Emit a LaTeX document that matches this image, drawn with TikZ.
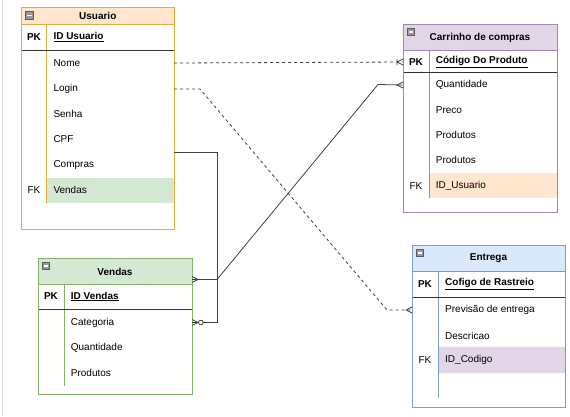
\documentclass[tikz,border=0pt]{standalone}
\usepackage{fontspec}
\setmainfont{Liberation Sans}
\definecolor{usrc}{HTML}{E3AC3C}
\definecolor{usrf}{HTML}{FFE6CC}
\definecolor{vndc}{HTML}{82B366}
\definecolor{vndf}{HTML}{D5E8D4}
\definecolor{carc}{HTML}{A486B4}
\definecolor{carf}{HTML}{E1D5E7}
\definecolor{entc}{HTML}{7C9CCB}
\definecolor{entf}{HTML}{DAE8FC}
\definecolor{linec}{HTML}{404040}
\tikzset{
  txt/.style={font=\fontsize{10}{12}\selectfont, inner sep=0pt, anchor=west, text=black},
  bold/.style={font=\bfseries\fontsize{10}{12}\selectfont, inner sep=0pt, text=black},
  keytxt/.style={font=\fontsize{10}{12}\selectfont, inner sep=0pt, text=black},
  frame/.style={draw=#1, line width=0.9pt, inner sep=0pt, outer sep=0pt, anchor=north west},
  conn/.style={draw=linec, line width=0.8pt},
  dashconn/.style={conn, dash pattern=on 3pt off 3pt},
  pkline/.style={draw=black!80, line width=1pt},
  pics/colicon/.style={code={
    \draw[fill=black!40, draw=black!65, line width=0.5pt] (0,0) rectangle (7.5,7.5);
    \fill[white] (1.5,3) rectangle (6,4.5);
  }},
  pics/crow/.style={code={
    \draw[conn] (-6,0) -- (0,-3) (-6,0) -- (0,3);
  }},
  pics/crowbar/.style={code={
    \draw[conn] (-6,0) -- (0,-3) (-6,0) -- (0,3) (-6,-3) -- (-6,3);
  }},
  pics/crowzero/.style={code={
    \draw[conn] (-6,0) -- (0,-3) (-6,0) -- (0,3);
    \draw[conn, fill=white] (-8.8,0) circle (2.3);
  }},
}
\begin{document}
\begin{tikzpicture}[x=1pt,y=-1pt]
\useasboundingbox (0,0) rectangle (570,416);
\fill[white] (0,0) rectangle (570,416);
\draw[black!12, line width=1.5pt] (2.5,0) -- (2.5,416);

% ---------------- Usuario ----------------
\fill[white] (21.5,7) rectangle (174,229);
\fill[usrf] (21.5,7) rectangle (174,24);
\fill[vndf] (46.7,178) rectangle (174,203);
\draw[usrc, line width=0.9pt] (21.5,24) -- (174,24);
\draw[usrc, line width=0.7pt] (46.7,24) -- (46.7,203);
\draw[pkline] (21.5,50) -- (174,50);
\node[frame=usrc, minimum width=152.5pt, minimum height=222pt] (usr) at (21.5,7) {};
\pic at (25.5,11.5) {colicon};
\node[bold] (usrT) at (97.75,16) {Usuario};
\node[bold] (usrPK) at (34,37) {PK};
\node[bold, anchor=west] (usrID) at (53.3,37) {\underline{ID Usuario}};
\node[txt] (usrNome) at (53.3,63) {Nome};
\node[txt] (usrLogin) at (53.3,89) {Login};
\node[txt] (usrSenha) at (53.3,114) {Senha};
\node[txt] (usrCPF) at (53.3,139) {CPF};
\node[txt] (usrCompras) at (53.3,165) {Compras};
\node[txt] (usrVendas) at (53.3,190) {Vendas};
\node[keytxt] (usrFK) at (34,190) {FK};

% ---------------- Carrinho de compras ----------------
\fill[white] (403,24) rectangle (557,212);
\fill[carf] (403,24) rectangle (557,50);
\fill[usrf] (429,173) rectangle (557,198);
\draw[carc, line width=0.9pt] (403,50) -- (557,50);
\draw[carc, line width=0.7pt] (429,50) -- (429,198);
\draw[pkline] (403,72) -- (557,72);
\node[frame=carc, minimum width=154pt, minimum height=188pt] (car) at (403,24) {};
\pic at (407,28) {colicon};
\node[bold] (carT) at (480,38) {Carrinho de compras};
\node[bold] (carPK) at (416,62) {PK};
\node[bold, anchor=west] (carID) at (435.7,62) {\underline{Código Do Produto}};
\node[txt] (carQtd) at (435.7,85) {Quantidade};
\node[txt] (carPreco) at (435.7,110) {Preco};
\node[txt] (carProd1) at (435.7,135) {Produtos};
\node[txt] (carProd2) at (435.7,160) {Produtos};
\node[txt] (carUsr) at (435.7,186) {ID\_Usuario};
\node[keytxt] (carFK) at (416,186) {FK};

% ---------------- Vendas ----------------
\fill[white] (38,258) rectangle (192,394);
\fill[vndf] (38,258) rectangle (192,284);
\draw[vndc, line width=0.9pt] (38,284) -- (192,284);
\draw[vndc, line width=0.7pt] (64,284) -- (64,386);
\draw[pkline] (38,309) -- (192,309);
\node[frame=vndc, minimum width=154pt, minimum height=136pt] (vnd) at (38,258) {};
\pic at (42,262) {colicon};
\node[bold] (vndT) at (115,271.5) {Vendas};
\node[bold] (vndPK) at (51,296.5) {PK};
\node[bold, anchor=west] (vndID) at (70.7,296.5) {\underline{ID Vendas}};
\node[txt] (vndCat) at (70.7,322.5) {Categoria};
\node[txt] (vndQtd) at (70.7,348) {Quantidade};
\node[txt] (vndProd) at (70.7,373) {Produtos};

% ---------------- Entrega ----------------
\fill[white] (412,245) rectangle (565,407);
\fill[entf] (412,245) rectangle (565,271);
\fill[carf] (438,347) rectangle (565,373);
\draw[entc, line width=0.9pt] (412,271) -- (565,271);
\draw[entc, line width=0.7pt] (438,271) -- (438,398);
\draw[pkline] (412,297) -- (565,297);
\node[frame=entc, minimum width=153pt, minimum height=162pt] (ent) at (412,245) {};
\pic at (416,249) {colicon};
\node[bold] (entT) at (488.5,258) {Entrega};
\node[bold] (entPK) at (425,284) {PK};
\node[bold, anchor=west] (entID) at (445,284) {\underline{Cofigo de Rastreio}};
\node[txt] (entPrev) at (445,310) {Previsão de entrega};
\node[txt] (entDesc) at (445,336) {Descricao};
\node[txt] (entCod) at (445,360) {ID\_Codigo};
\node[keytxt] (entFK) at (425,360) {FK};

% ---------------- Connectors ----------------
% Usuario.Nome -> Carrinho PK (dashed, one-to-many)
\draw[dashconn] (usrNome -| usr.east) -- (carPK -| car.west);
\pic at (carPK -| car.west) {crowbar};

% Usuario.Login -> Entrega (dashed, many)
\coordinate (b1) at (200,89);
\coordinate (b2) at (387,310);
\draw[dashconn] (usrLogin -| usr.east) -- (b1) -- (b2) -- (entPrev -| ent.west);
\pic at (entPrev -| ent.west) {crow};

% Usuario -> Vendas.Categoria (solid, zero-to-many)
\coordinate (c1) at (174,152);
\coordinate (cj) at (217,322.5);
\draw[conn] (c1) -| (cj) -- (vndCat -| vnd.east);
\pic[xscale=-1] at (vndCat -| vnd.east) {crowzero};

% Vendas header -> Carrinho.Quantidade (solid, many to many)
\coordinate (d0) at (192,279.5);
\coordinate (d1) at (217,279.5);
\coordinate (d2) at (378,84.5);
\draw[conn] (d0) -- (d1) -- (d2) -- (carQtd -| car.west);
\pic[xscale=-1] at (d0) {crow};
\pic at (carQtd -| car.west) {crow};
\end{tikzpicture}
\end{document}
